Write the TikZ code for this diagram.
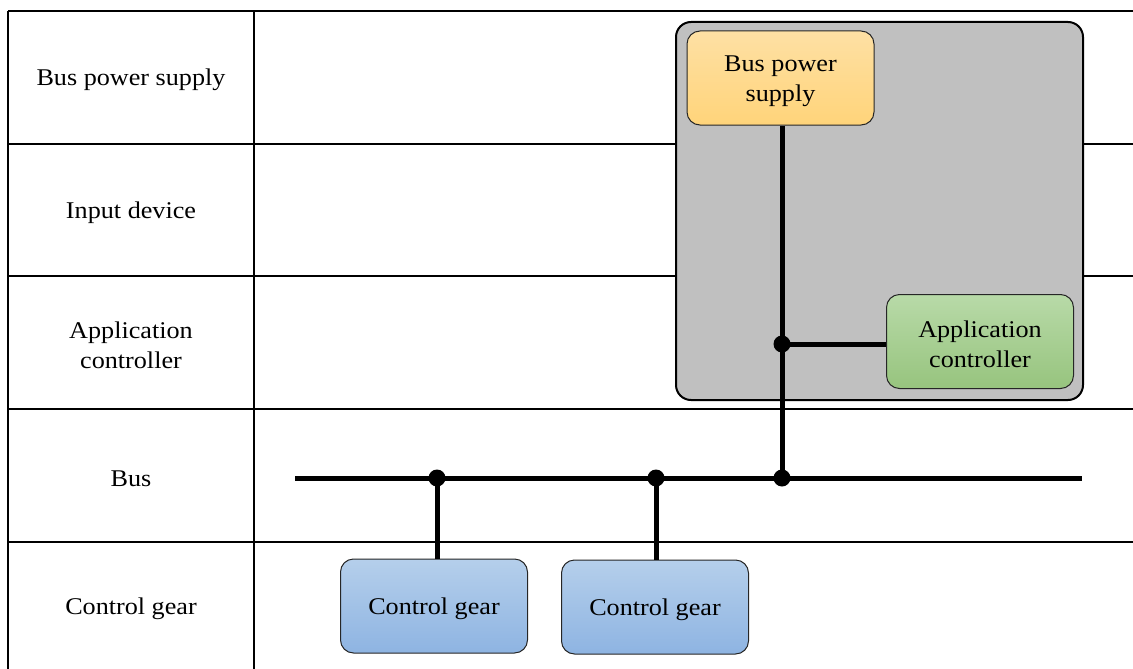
\documentclass[tikz,border=0pt]{standalone}
\usepackage{fontspec}
\setmainfont{Liberation Serif}[FakeStretch=1.09]
\usetikzlibrary{calc}
\definecolor{panelgrey}{HTML}{C0C0C0}
\definecolor{supplytop}{HTML}{FEE0A4}
\definecolor{supplybot}{HTML}{FFD47A}
\definecolor{ctrltop}{HTML}{B8DAA8}
\definecolor{ctrlbot}{HTML}{97C47E}
\definecolor{geartop}{HTML}{B5CFEB}
\definecolor{gearbot}{HTML}{8EB4E2}
\tikzset{
  grid/.style={line width=1.9pt},
  headtext/.style={align=center, font=\fontsize{24}{30}\selectfont},
  unit/.style={draw=black!85, line width=1pt, rounded corners=13pt,
    minimum width=187pt, minimum height=94pt, inner sep=0pt},
  caption/.style={label={[headtext, yshift=-3pt]center:{#1}}},
  supplybox/.style={unit, top color=supplytop, bottom color=supplybot},
  ctrlbox/.style={unit, top color=ctrltop, bottom color=ctrlbot},
  gearbox/.style={unit, top color=geartop, bottom color=gearbot},
  wire/.style={line width=5pt},
  joint/.style={circle, fill=black, inner sep=0pt, minimum size=17pt}
}
\begin{document}
\begin{tikzpicture}[x=1pt, y=-1pt]
  \useasboundingbox (0,0) rectangle (1133,669);
  % table grid
  \foreach \yy in {11,144,276,409,542}
    \draw[grid] (8,\yy) -- (1133,\yy);
  \draw[grid] (8,11) -- (8,669);
  \draw[grid] (254,11) -- (254,669);
  % row headings
  \node[headtext] (hBps)  at (131,80)    {Bus power supply};
  \node[headtext] (hIn)   at (131,212.5) {Input device};
  \node[headtext] (hApp)  at (131,345)   {Application\\controller};
  \node[headtext] (hBus)  at (131,478.5) {Bus};
  \node[headtext] (hGear) at (131,609)   {Control gear};
  % enclosing device
  \draw[line width=2pt, fill=panelgrey, rounded corners=15pt] (676,22) rectangle (1083,400);
  % units
  \node[supplybox, caption={Bus power\\supply}]     (bps) at (780.5,78)  {};
  \node[ctrlbox, caption={Application\\controller}] (app) at (980,341.5) {};
  \node[gearbox, caption={Control gear}]            (cg1) at (434,606)   {};
  \node[gearbox, caption={Control gear}]            (cg2) at (655,607)   {};
  % bus and junctions
  \coordinate (busL) at (295,478);
  \coordinate (busR) at (1082,478);
  \coordinate (j1) at (437,478);
  \coordinate (j2) at (656,478);
  \coordinate (j3) at (782,478);
  \coordinate (jA) at (782,344);
  \draw[wire] (busL) -- (busR);
  \draw[wire] (bps.south -| j3) -- (j3);
  \draw[wire] (jA) -- (jA -| app.west);
  \draw[wire] (j1) -- (j1 |- cg1.north);
  \draw[wire] (j2) -- (j2 |- cg2.north);
  \foreach \p in {j1,j2,j3,jA}
    \node[joint] at (\p) {};
\end{tikzpicture}
\end{document}
